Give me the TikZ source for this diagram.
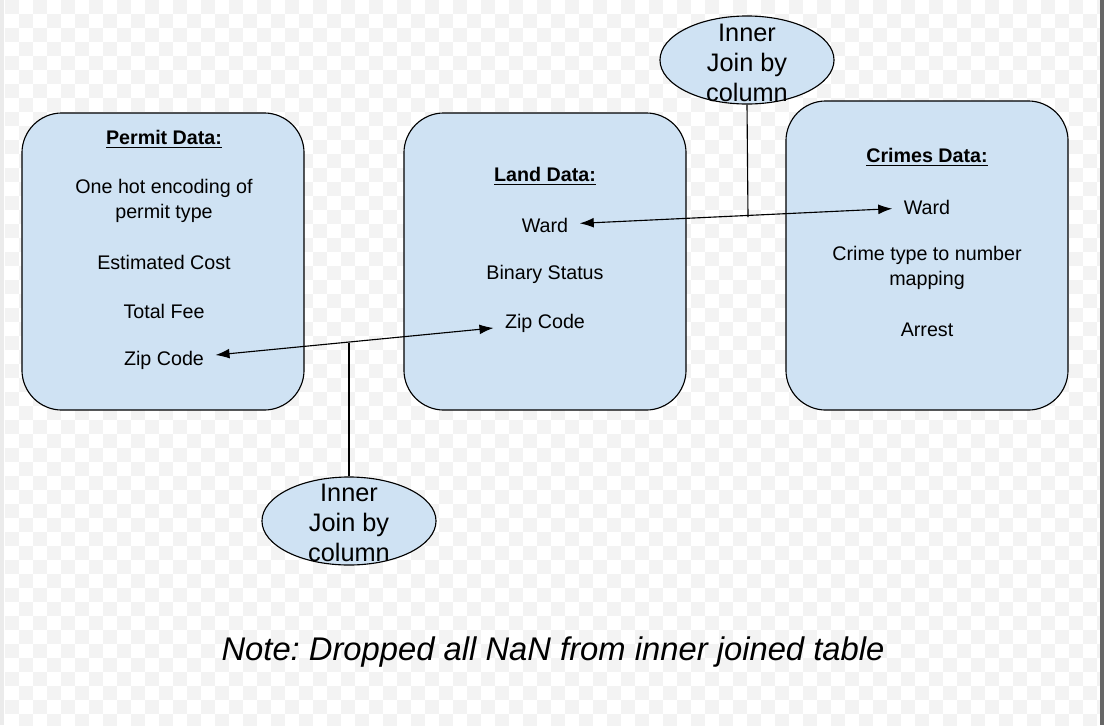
\documentclass[tikz,border=0pt]{standalone}
\usepackage{fontspec}
\setmainfont{Liberation Sans}
\usepackage{tikz}
\usetikzlibrary{shapes.geometric,arrows.meta}
\frenchspacing

\definecolor{boxblue}{RGB}{207,226,243}
\definecolor{chk}{RGB}{243,243,243}

\tikzset{
    databox/.style={draw, line width=0.8pt, fill=boxblue, rounded corners=1cm,
        minimum width=7.05cm, minimum height=7.425cm},
    entry/.style={inner xsep=8pt, inner ysep=0pt, align=center,
        font=\fontsize{14}{17.8}\selectfont},
    joinell/.style={draw, line width=0.8pt, fill=boxblue, ellipse,
        minimum width=4.35cm, minimum height=2.2cm, inner sep=0pt},
    jointext/.style={inner sep=0pt, align=center, font=\fontsize{18}{21.3}\selectfont},
    link/.style={line width=0.8pt, {Latex[length=10pt,width=7pt]}-{Latex[length=10pt,width=7pt]}}
}

\begin{document}
\begin{tikzpicture}[x=0.025cm, y=-0.025cm]
    \useasboundingbox (0,0) rectangle (1104,725);

    % background
    \fill[white] (0,0) rectangle (1104,725);
    \begin{scope}
        \clip (5,0) rectangle (1100,725);
        \foreach \j in {0,...,51}{
            \pgfmathtruncatemacro{\st}{mod(\j,2)}
            \pgfmathtruncatemacro{\nx}{\st+2}
            \foreach \i in {\st,\nx,...,78}
                \fill[chk] (5+14*\i,14*\j) rectangle +(14,14);
        }
    \end{scope}
    \fill[black!8] (0,0) rectangle (4,725);
    \fill[black!60] (1100,0) rectangle (1104,725);

    % tables
    \node[databox] (permit) at (163,261.5) {};
    \node[databox] (land) at (545,261.5) {};
    \node[databox, minimum height=7.725cm] (crimes) at (927,255.5) {};

    \node[entry] (ptitle) at (164,139) {\underline{\textbf{Permit Data:}}};
    \node[entry] (ptype) at (164,200.5) {One hot encoding of\\permit type};
    \node[entry] (pcost) at (164,262) {Estimated Cost};
    \node[entry] (pfee) at (164,311) {Total Fee};
    \node[entry] (pzip) at (164,360) {Zip Code};

    \node[entry] (ltitle) at (545,176) {\underline{\textbf{Land Data:}}};
    \node[entry] (lward) at (545,225) {Ward};
    \node[entry] (lstatus) at (545,274) {Binary Status};
    \node[entry] (lzip) at (545,323) {Zip Code};

    \node[entry] (ctitle) at (927,157) {\underline{\textbf{Crimes Data:}}};
    \node[entry] (cward) at (927,207) {Ward};
    \node[entry] (ctype) at (927,268) {Crime type to number\\mapping};
    \node[entry] (carrest) at (927,330) {Arrest};

    % joins
    \node[joinell] (topjoin) at (747,60) {};
    \node[jointext] at (747,63) {Inner\\Join by\\column};
    \node[joinell] (botjoin) at (349,521) {};
    \node[jointext] at (349,523) {Inner\\Join by\\column};

    \coordinate (wardhit) at (748,217);
    \coordinate (ziphit) at (349,343);

    \draw[link] (lward) -- (cward);
    \draw[link] (pzip) -- (lzip);
    \draw[line width=0.8pt] (topjoin.south) -- (wardhit);
    \draw[line width=0.8pt] (botjoin.north) -- (ziphit);

    \node[font=\fontsize{23.3}{28}\selectfont\itshape] (note) at (553,652)
        {Note: Dropped all NaN from inner joined table};
\end{tikzpicture}
\end{document}
